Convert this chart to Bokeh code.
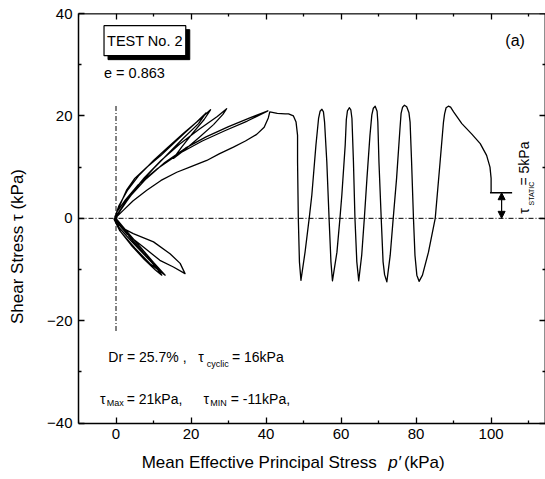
import math
from bokeh.plotting import figure
from bokeh.models import Range1d, LinearAxis, Label, Span, Arrow, NormalHead, FixedTicker
from bokeh.embed import file_html
from bokeh.resources import INLINE

# ---- data (mean effective stress p', shear stress tau) ----
p_prime = [
    100.0, 100.0, 99.7, 98.8, 97.1, 94.8, 92.2, 90.0, 89.2, 88.6,
    88.0, 87.6, 87.3, 86.4, 85.1, 83.3, 81.7, 80.8,
    80.2, 79.7, 79.3, 78.8, 78.4, 78.1, 77.5, 76.9,
    76.4, 76.0, 75.7, 74.8, 73.9, 73.1, 72.2,
    71.6, 71.2, 70.7, 70.1, 69.8, 69.6, 69.1,
    68.6, 68.2, 67.7, 66.9, 66.2, 65.5, 64.7,
    64.2, 63.7, 63.3, 62.9, 62.6, 62.2,
    61.7, 61.4, 61.1, 60.2, 59.7, 58.9, 57.7,
    57.3, 56.8, 56.2, 55.6, 55.3, 54.9,
    54.4, 54.0, 53.3, 52.2, 51.5, 50.4, 49.3,
    48.9, 48.6, 48.4, 48.4, 48.0, 47.3, 46.0, 45.1, 43.0, 41.0,
    40.6, 39.5, 37.5, 34.5, 31.3, 27.5, 24.2, 20.0, 16.2, 12.0, 8.2, 4.5, 2.0, 0.3,
    0.0, 1.5, 4.6, 10.0, 14.4, 17.1, 18.4, 15.3, 11.7, 7.3, 2.8, 0.0,
    0.2, 2.5, 6.0, 11.0, 17.0, 23.0, 29.0, 35.0, 40.5,
    36.0, 30.0, 24.0, 18.5, 13.0, 8.0, 4.0, 1.0, -0.4,
    0.8, 4.0, 8.2, 11.2, 13.1, 11.5, 8.0, 4.2, 1.2, -0.3,
    0.8, 3.0, 6.0, 10.0, 14.0, 18.0, 22.0, 25.2,
    23.5, 20.5, 17.5, 15.3,
    18.0, 22.0, 26.0, 28.5, 29.5,
    27.0, 22.0, 17.0, 12.0, 7.5, 3.5, 1.0, -0.5,
    1.0, 4.0, 7.5, 10.5, 12.2, 10.8, 7.5, 4.0, 1.0, -0.3,
    1.0, 2.8, 5.0, 8.2, 12.0, 15.3, 18.5, 21.5, 24.0,
    22.0, 18.0, 14.0, 10.0, 6.0, 3.0, 0.8, -0.4,
    1.2, 5.0, 9.0, 13.1, 10.0, 6.0, 2.5, 0.0,
]
tau = [
    5.0, 7.8, 10.0, 12.3, 14.6, 16.5, 18.5, 20.8, 21.7, 21.9,
    21.6, 20.4, 18.8, 11.0, 0.0, -6.6, -11.1, -12.3,
    -11.1, -7.2, 0.0, 11.0, 18.8, 20.6, 21.8, 22.1,
    21.7, 20.5, 17.5, 7.8, 0.0, -7.2, -12.4,
    -11.0, -8.5, 0.0, 11.0, 18.8, 20.9, 21.9,
    21.5, 20.2, 16.2, 7.8, 0.0, -7.2, -12.2,
    -8.5, 0.0, 11.0, 19.5, 21.2, 21.6,
    21.0, 19.3, 14.3, 4.5, 0.0, -6.6, -12.2,
    -8.5, 0.0, 11.0, 18.8, 20.8, 21.3,
    20.9, 19.5, 14.3, 4.5, 0.0, -6.6, -12.1,
    -8.5, 0.0, 11.0, 16.2, 18.8, 20.0, 20.4, 20.4, 20.5, 20.8,
    19.6, 17.8, 16.4, 15.1, 13.9, 12.6, 11.3, 10.1, 9.0, 7.4, 5.5, 3.4, 1.6, 0.4,
    -0.5, -1.8, -3.0, -4.6, -6.9, -8.8, -10.8, -9.5, -8.2, -5.6, -3.0, -0.6,
    1.2, 3.6, 6.6, 9.7, 12.7, 15.1, 17.1, 19.0, 21.0,
    19.7, 17.9, 15.9, 13.7, 10.9, 7.7, 4.5, 1.5, 0.0,
    -1.8, -4.4, -7.6, -9.9, -11.1, -10.0, -7.3, -4.2, -1.4, 0.2,
    2.5, 5.4, 8.3, 11.3, 14.0, 16.6, 19.1, 21.2,
    19.3, 16.7, 13.9, 11.7,
    13.2, 15.7, 18.3, 20.3, 21.4,
    19.9, 17.3, 14.5, 11.3, 7.9, 4.3, 1.5, -0.2,
    -2.4, -5.2, -8.0, -10.1, -11.1, -9.7, -6.9, -3.9, -1.1, 0.3,
    2.5, 5.5, 7.8, 10.0, 12.3, 14.6, 16.8, 18.8, 20.6,
    18.5, 15.7, 12.7, 9.7, 6.5, 3.5, 1.1, 0.0,
    -2.6, -5.8, -8.8, -11.1, -8.6, -5.2, -2.2, 0.0,
]

x_ticks = [0, 20, 40, 60, 80, 100]
y_ticks = [-40, -20, 0, 20, 40]
x_minor = [-10, 10, 30, 50, 70, 90, 110]
y_minor = [-30, -10, 10, 30]

X_MIN, X_MAX = -10, 114.5
Y_MIN, Y_MAX = -40, 40

tau_static = 5.0
p_static = 100.0
vline_x = 0.0
vline_extent = 22.0

FONT = "Liberation Sans"

p = figure(width=545, height=479, x_range=Range1d(X_MIN, X_MAX), y_range=Range1d(-51, Y_MAX),
           output_backend="svg", toolbar_location=None,
           x_axis_location=None, y_axis_location=None,
           min_border_left=78, min_border_right=0, min_border_top=13, min_border_bottom=0)
p.grid.visible = False
p.outline_line_color = None
p.background_fill_color = "white"
p.border_fill_color = "white"


def style(ax, tin, mtin):
    ax.axis_line_color = "black"
    ax.axis_line_width = 1.5
    ax.major_tick_line_color = "black"
    ax.major_tick_line_width = 1.3
    ax.minor_tick_line_color = "black"
    ax.minor_tick_line_width = 1.3
    ax.major_tick_in = tin
    ax.major_tick_out = 0
    ax.minor_tick_in = mtin
    ax.minor_tick_out = 0
    ax.major_label_text_font = FONT
    ax.major_label_text_font_size = "15px"
    ax.major_label_text_color = "black"


# bottom axis (labelled), fixed at y = -40
xa = LinearAxis(fixed_location=Y_MIN, ticker=FixedTicker(ticks=x_ticks, minor_ticks=x_minor))
style(xa, 6, 3)
xa.major_label_standoff = 6
p.add_layout(xa, "below")

# left axis (labelled)
ya = LinearAxis(bounds=(Y_MIN, Y_MAX), ticker=FixedTicker(ticks=y_ticks, minor_ticks=y_minor))
style(ya, 6, 3)
ya.major_label_standoff = 6
ya.axis_label = "Shear Stress \u03c4 (kPa)"
ya.axis_label_text_font = FONT
ya.axis_label_text_font_size = "17px"
ya.axis_label_text_font_style = "normal"
ya.axis_label_text_color = "black"
ya.axis_label_standoff = 17
p.add_layout(ya, "left")

# mirrored axes (ticks only, no labels)
for ticks, tin in ((x_ticks, 6), (x_minor, 3)):
    ax = LinearAxis(fixed_location=Y_MAX, ticker=FixedTicker(ticks=[], minor_ticks=ticks))
    style(ax, 0, tin)
    p.add_layout(ax, "above")
for ticks, tin in ((y_ticks, 6), (y_minor, 3)):
    ax = LinearAxis(fixed_location=X_MAX, bounds=(Y_MIN, Y_MAX),
                    ticker=FixedTicker(ticks=[], minor_ticks=ticks))
    style(ax, 0, tin)
    p.add_layout(ax, "right")

# reference lines
p.segment(x0=[X_MIN], y0=[0], x1=[X_MAX], y1=[0],
          line_color="black", line_width=1, line_dash="5 2 1 2")
p.segment(x0=[vline_x], y0=[-vline_extent], x1=[vline_x], y1=[vline_extent],
          line_color="black", line_width=1, line_dash="5 2 1 2")

# stress path
p.line(p_prime, tau, line_color="black", line_width=1.3, line_join="round")

# tau static marker
p.segment(x0=[p_static - 0.3], y0=[tau_static], x1=[p_static + 5.6], y1=[tau_static],
          line_color="black", line_width=1.3)
p.add_layout(Arrow(start=NormalHead(size=7, fill_color="black", line_color="black"),
                   end=NormalHead(size=7, fill_color="black", line_color="black"),
                   x_start=102.8, y_start=tau_static, x_end=102.8, y_end=0,
                   line_color="black", line_width=1.2))


def lab(text, x, y, size, **kw):
    d = dict(x=x, y=y, text=text, text_font=FONT, text_font_size=size,
             text_color="black", text_baseline="middle", text_align="left")
    d.update(kw)
    p.add_layout(Label(**d))


# TEST No. 2 box with shadow
lab("TEST No. 2", 7.7, 34.7, "14.5px", text_align="center", x_offset=4, y_offset=-4,
    background_fill_color="black", border_line_color="black", padding=(3, 7))
lab("TEST No. 2", 7.7, 34.7, "14.5px", text_align="center",
    background_fill_color="white", border_line_color="black", border_line_width=1.2,
    padding=(3, 7))

lab("e = 0.863", -3.2, 28.3, "14.5px")
lab("(a)", 106.4, 34.8, "16px", text_align="center")

# Dr / tau cyclic
lab("Dr = 25.7% ,", -2.05, -27.1, "14px")
lab("\u03c4", 21.9, -27.1, "14px")
lab("cyclic", 24.2, -28.4, "9px")
lab("= 16kPa", 30.9, -27.1, "14px")

lab("\u03c4", -4.27, -35.2, "14px")
lab("Max", -2.48, -36.1, "9px")
lab("= 21kPa,", 2.85, -35.2, "14px")
lab("\u03c4", 23.3, -35.2, "14px")
lab("MIN", 25.1, -36.1, "9px")
lab("= -11kPa,", 30.6, -35.2, "14px")

# tau static label (rotated)
lab("\u03c4", 108.9, 0.9, "14px", angle=math.pi / 2)
lab("STATIC", 110.8, 2.5, "7px", angle=math.pi / 2)
lab("= 5kPa", 108.9, 6.4, "14px", angle=math.pi / 2)

# x axis label
lab("Mean Effective Principal Stress", 6.85, -47.6, "17px")
lab("p\u2032", 72.6, -47.6, "17px", text_font_style="italic")
lab("(kPa)", 76.8, -47.6, "17px")

open("out.html", "w").write(file_html(p, INLINE))
